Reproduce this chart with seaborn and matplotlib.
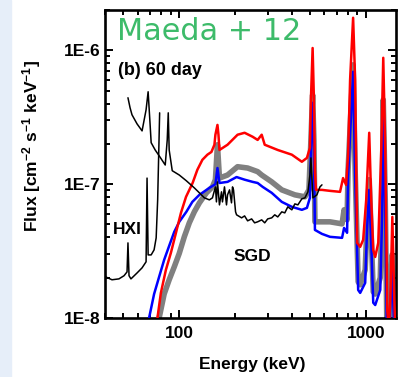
import matplotlib
matplotlib.use("Agg")
import matplotlib.pyplot as plt
from matplotlib.patches import Rectangle
from matplotlib.ticker import FixedLocator, FuncFormatter, LogLocator, NullFormatter
import numpy as np
import pandas as pd
import seaborn as sns

# ---------------- data ----------------
hxi_energy = [39.5, 40.3, 43.6, 47.5, 50.6, 52.5, 53.1, 53.8, 55.1, 59.4, 63.2, 66.4,
              67.2, 68.1, 70.7, 73.3, 75.2, 76.6, 78.5]
hxi_flux = [2.21e-8, 2.03e-8, 1.93e-8, 1.96e-8, 2.07e-8, 2.21e-8, 3.64e-8, 2.07e-8,
            1.96e-8, 2.17e-8, 2.37e-8, 2.63e-8, 1.11e-7, 2.96e-8, 2.96e-8, 3.23e-8,
            3.97e-8, 7.63e-8, 3.41e-7]

sgd_energy = [53.1, 54.5, 55.8, 59.4, 63.2, 66.4, 68.1, 69.8, 70.7, 74.3, 78.0, 84.1,
              86.2, 87.3, 88.3, 91.7, 100, 109.1, 120.4, 128.2, 136.3, 145.0, 150.6,
              156.2, 158.2, 160.2, 164.2, 168.4, 170.4, 174.7, 179.1, 181.4, 185.9,
              190.5, 192.9, 195.3, 200.3, 202.8, 215.8, 223.9, 232.4, 244.2, 253.4,
              263.0, 276.5, 287.0, 297.8, 312.9, 324.8, 337.1, 354.3, 367.7, 381.6,
              401.0, 416.3, 432.0, 453.9, 471.2, 489.1, 501.3, 507.5, 520.2, 546.6,
              567.4, 581.6]
sgd_flux = [4.42e-7, 3.72e-7, 3.30e-7, 2.82e-7, 2.50e-7, 3.59e-7, 4.90e-7, 2.77e-7,
            2.04e-7, 1.80e-7, 1.63e-7, 1.39e-7, 2.14e-7, 3.41e-7, 1.80e-7, 1.26e-7,
            1.17e-7, 1.06e-7, 9.38e-8, 8.61e-8, 7.90e-8, 7.63e-8, 7.90e-8, 9.54e-8,
            7.37e-8, 1.04e-7, 7.0e-8, 8.76e-8, 7.37e-8, 9.54e-8, 7.0e-8, 8.32e-8,
            9.06e-8, 7.25e-8, 9.54e-8, 9.06e-8, 6.21e-8, 5.90e-8, 5.60e-8, 5.79e-8,
            5.32e-8, 5.50e-8, 5.14e-8, 5.23e-8, 5.41e-8, 5.14e-8, 5.50e-8, 5.60e-8,
            5.90e-8, 5.69e-8, 6.21e-8, 6.10e-8, 6.77e-8, 6.43e-8, 7.12e-8, 7.0e-8,
            7.77e-8, 7.90e-8, 8.76e-8, 1.17e-7, 1.57e-7, 7.90e-8, 8.32e-8, 9.54e-8,
            9.88e-8]

red_energy = [74.3, 76.4, 79.7, 84.8, 90.2, 96.0, 102.1, 108.7, 117.9, 125.0,
              133.0, 141.5, 148.7, 154.3, 156.2, 160.2, 162.2, 164.2, 181.4, 205.3,
              223.9, 247.2, 263.0, 276.5, 287.0, 337.1, 401.0, 453.9, 483.1, 501.3,
              507.5, 518.3, 526.7, 533.3, 540.0, 581.6, 642.3, 727.0, 754.7, 783.2,
              802.9, 823.0, 854.2, 875.8, 898.0, 932.0, 967.1, 1004, 1042, 1068, 1095,
              1122, 1165, 1209, 1239, 1270, 1302, 1327, 1352, 1386, 1420, 1438]
red_flux = [8.15e-9, 1.0e-8, 1.54e-8, 2.29e-8, 3.07e-8, 4.33e-8, 6.10e-8, 8.04e-8,
            1.02e-7, 1.28e-7, 1.52e-7, 1.66e-7, 1.74e-7, 1.97e-7, 2.34e-7,
            2.77e-7, 2.34e-7, 1.80e-7, 1.97e-7, 2.34e-7, 2.42e-7, 2.26e-7, 2.14e-7,
            2.34e-7, 1.97e-7, 1.80e-7, 1.66e-7, 1.47e-7, 1.57e-7, 1.87e-7, 4.27e-7,
            1.04e-6, 4.27e-7, 1.28e-7, 9.06e-8, 9.06e-8, 8.91e-8, 8.76e-8, 1.11e-7,
            9.88e-8, 1.66e-7, 6.02e-7, 1.75e-6, 6.02e-7, 3.64e-8, 3.40e-8, 3.84e-8,
            7.63e-8, 2.42e-7, 7.63e-8, 3.23e-8, 2.86e-8, 3.64e-8, 1.80e-7, 8.79e-7,
            1.80e-7, 1.15e-8, 8.15e-9, 1.37e-8, 5.69e-8, 1.37e-8, 8.15e-9]

blue_energy = [68.1, 68.9, 73.3, 78.0, 83.0, 88.3, 94.0, 100, 109.1, 117.5, 128.2,
               145.0, 156.2, 160.2, 164.2, 181.4, 202.8, 223.9, 247.2, 263.0, 279.9,
               312.9, 354.3, 401.0, 453.9, 483.1, 501.3, 507.5, 518.3, 526.7, 533.3,
               581.6, 642.3, 745.3, 764.0, 793.0, 802.9, 854.2, 875.8, 909.1, 932.0,
               991.3, 1016, 1042, 1068, 1095, 1122, 1194, 1224, 1239, 1270, 1294, 1335,
               1380, 1420]
blue_flux = [8.15e-9, 1.0e-8, 1.51e-8, 2.03e-8, 2.72e-8, 3.46e-8, 4.40e-8, 5.23e-8,
             6.21e-8, 7.37e-8, 8.32e-8, 9.38e-8, 1.0e-7, 1.32e-7, 1.02e-7, 1.04e-7,
             1.13e-7, 1.08e-7, 1.04e-7, 1.02e-7, 9.54e-8, 8.61e-8, 7.37e-8, 6.77e-8,
             6.43e-8, 6.65e-8, 7.90e-8, 1.80e-7, 4.05e-7, 1.80e-7, 4.55e-8, 4.25e-8,
             4.04e-8, 3.97e-8, 4.71e-8, 4.33e-8, 1.13e-7, 6.91e-7, 1.13e-7, 1.62e-8,
             1.54e-8, 1.83e-8, 4.80e-8, 9.06e-8, 3.64e-8, 1.30e-8, 1.25e-8, 1.62e-8,
             6.43e-8, 3.41e-7, 6.43e-8, 8.88e-9, 8.15e-9, 2.29e-8, 8.15e-9]

grey_energy = [77.1, 78.0, 83.0, 88.3, 94.0, 100, 106.4, 113.2, 120.4, 128.2, 139.8,
               150.6, 156.2, 160.2, 164.2, 181.4, 205.3, 232.4, 263.0, 276.5, 312.9,
               354.3, 416.3, 471.2, 495.2, 507.5, 518.3, 526.7, 533.3, 581.6, 642.3,
               745.3, 764.0, 793.0, 802.9, 854.2, 875.8, 909.1, 932.0, 991.3, 1016,
               1042, 1068, 1095, 1122, 1194, 1224, 1239, 1270, 1294, 1335, 1380, 1420]
grey_flux = [8.15e-9, 1.0e-8, 1.51e-8, 1.93e-8, 2.41e-8, 3.04e-8, 4.04e-8, 5.14e-8,
             6.21e-8, 7.25e-8, 8.61e-8, 9.54e-8, 1.08e-7, 1.97e-7, 1.11e-7, 1.17e-7,
             1.35e-7, 1.32e-7, 1.24e-7, 1.17e-7, 1.04e-7, 9.06e-8, 8.32e-8, 8.04e-8,
             9.06e-8, 2.14e-7, 4.65e-7, 2.14e-7, 5.23e-8, 5.23e-8, 5.23e-8, 5.05e-8,
             6.43e-8, 5.41e-8, 1.28e-7, 7.79e-7, 1.28e-7, 1.86e-8, 1.77e-8, 2.29e-8,
             5.41e-8, 1.08e-7, 4.18e-8, 1.57e-8, 1.51e-8, 2.0e-8, 7.63e-8, 4.27e-7,
             7.63e-8, 9.69e-9, 8.15e-9, 2.96e-8, 8.15e-9]

y_ticks = [1e-8, 1e-7, 1e-6]
x_ticks = [100, 1000]
x_tick_labels = ["100", "1000"]

# ---------------- style ----------------
sns.set_style("ticks")
plt.rcParams['font.family'] = ['Liberation Sans', 'DejaVu Sans']
plt.rcParams['font.weight'] = 'bold'
plt.rcParams['text.color'] = 'black'
plt.rcParams['axes.labelcolor'] = 'black'
plt.rcParams['xtick.color'] = 'black'
plt.rcParams['ytick.color'] = 'black'
plt.rcParams['axes.edgecolor'] = 'black'
plt.rcParams['mathtext.fontset'] = 'custom'
plt.rcParams['mathtext.rm'] = 'Liberation Sans:bold'
plt.rcParams['mathtext.bf'] = 'Liberation Sans:bold'
plt.rcParams['mathtext.it'] = 'Liberation Sans:bold'

W, H = 398, 377
fig = plt.figure(figsize=(W / 100, H / 100), dpi=100)
fig.patches.append(Rectangle((0, 0), 11 / W, 1, transform=fig.transFigure,
                             color='#e6eef9', zorder=0))
ax = fig.add_axes([105 / W, (H - 318) / H, 291 / W, 308 / H])
ax.set_xscale('log')
ax.set_yscale('log')


def draw(e, f, color, lw, z):
    df = pd.DataFrame({'energy': e, 'flux': f})
    sns.lineplot(data=df, x='energy', y='flux', ax=ax, color=color, lw=lw,
                 sort=False, estimator=None, zorder=z)


draw(grey_energy, grey_flux, '#808080', 4.0, 2)
draw(blue_energy, blue_flux, '#0000ff', 1.8, 3)
draw(red_energy, red_flux, '#ff0000', 1.8, 4)
draw(sgd_energy, sgd_flux, '#000000', 1.1, 5)
draw(hxi_energy, hxi_flux, '#000000', 1.1, 5)

ax.set_xlim(40, 1450)
ax.set_ylim(1e-8, 2e-6)
ax.set_xlabel('')
ax.set_ylabel('')

ax.xaxis.set_major_locator(FixedLocator(x_ticks))
ax.xaxis.set_major_formatter(FuncFormatter(
    lambda v, p: x_tick_labels[x_ticks.index(int(round(v)))] if int(round(v)) in x_ticks else ''))
ax.xaxis.set_minor_locator(LogLocator(base=10, subs=np.arange(2, 10), numticks=20))
ax.xaxis.set_minor_formatter(NullFormatter())
ax.yaxis.set_major_locator(FixedLocator(y_ticks))
ax.yaxis.set_major_formatter(FuncFormatter(lambda v, p: '1E%d' % int(round(np.log10(v)))))
ax.yaxis.set_minor_locator(LogLocator(base=10, subs=np.arange(2, 10), numticks=20))
ax.yaxis.set_minor_formatter(NullFormatter())

ax.tick_params(which='both', direction='in', top=True, right=True, width=1.4,
               colors='black', labelsize=12.5)
ax.tick_params(which='major', length=6)
ax.tick_params(which='minor', length=3.5)
ax.tick_params(axis='x', pad=6)
ax.tick_params(axis='y', pad=3)
for s in ax.spines.values():
    s.set_linewidth(1.9)
    s.set_color('black')
    s.set_visible(True)

ax.text(0.045, 0.802, '(b) 60 day', transform=ax.transAxes, fontsize=13,
        va='center', ha='left', zorder=6)
ax.text(0.0756, 0.286, 'HXI', transform=ax.transAxes, fontsize=12.5,
        va='center', ha='center', zorder=6)
ax.text(0.507, 0.2, 'SGD', transform=ax.transAxes, fontsize=12.5,
        va='center', ha='center', zorder=6)

fig.text(252 / W, 1 - 365 / H, 'Energy (keV)', fontsize=12.5, ha='center', va='center')
fig.text(32 / W, 1 - 146 / H, r'Flux [cm$^{-2}$ s$^{-1}$ keV$^{-1}$]', fontsize=12.5,
         rotation=90, ha='center', va='center')
fig.text(117 / W, 1 - 40 / H, 'Maeda + 12', fontsize=21.8, color='#3dbb6a',
         fontweight='normal', family=['DejaVu Sans'], ha='left', va='baseline')

fig.savefig('out.png', dpi=100)
